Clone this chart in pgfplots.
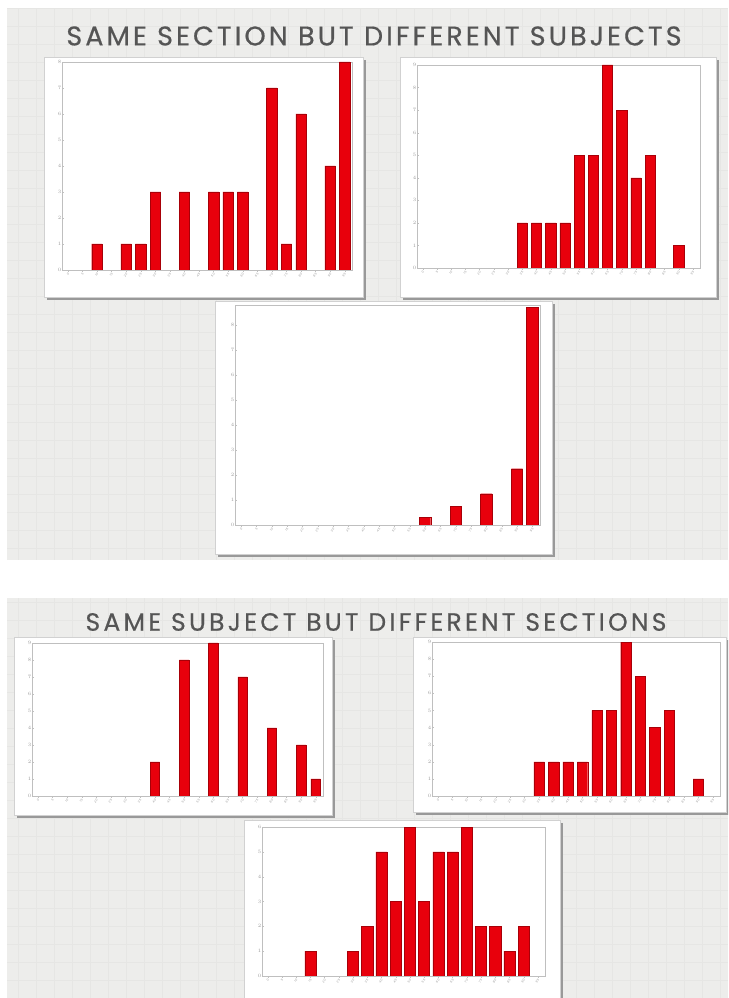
\documentclass[border=0pt]{standalone}
\usepackage{pgfplots}
\pgfplotsset{compat=1.18}
\usepackage{fontspec}
\setmainfont{Poppins}
\newfontfamily\titlefontA[FakeBold=0.5, LetterSpace=11.5]{Poppins}
\newfontfamily\titlefontB[FakeBold=0.5, LetterSpace=13]{Poppins}

\definecolor{slidebg}{HTML}{EDEDEB}
\definecolor{slidegrid}{HTML}{E6E6E4}
\definecolor{barred}{HTML}{E8000C}
\definecolor{baredge}{HTML}{A80008}
\definecolor{titlegray}{HTML}{555555}

% card: x1 y1 x2 y2 in pixels, origin top left
\newcommand\card[4]{%
  \fill[black!40] (#1+3,998-#4-3) rectangle (#3+3,998-#2-3);
  \filldraw[fill=white,draw=black!18] (#1,998-#4) rectangle (#3,998-#2);}

\pgfplotsset{
  hist/.style={
    scale only axis, anchor=south west,
    ybar, bar width=0.72,
    xmin=-0.4, xmax=19.5, ymin=0,
    axis line style={draw=black!25},
    tick pos=left,
    major tick style={draw=black!25, line width=0.3pt},
    major tick length=2pt,
    xtick={0,...,19},
    xticklabels={0,5,10,15,20,25,30,35,40,45,50,55,60,65,70,75,80,85,90,95},
    ytick distance=1,
    tick label style={font=\fontsize{3}{3}\selectfont, text=black!40},
    x tick label style={rotate=45, anchor=north east, inner sep=0.5pt},
    y tick label style={inner sep=0.5pt},
  },
  redbar/.style={fill=barred, draw=baredge, line width=0.4pt},
}

\begin{document}
\begin{tikzpicture}[x=1pt,y=1pt]
\useasboundingbox (0,0) rectangle (728,998);
\clip (0,0) rectangle (728,998);
% page and the two slides
\fill[white] (0,0) rectangle (728,998);
\fill[slidebg] (7,998-560) rectangle (728,998-8);
\draw[slidegrid, line width=0.4pt, step=18pt] (7,998-560) grid (728,998-8);
\fill[slidebg] (7,0) rectangle (728,998-598);
\draw[slidegrid, line width=0.4pt, step=18pt] (7,0) grid (728,998-598);

\node[titlegray, font=\titlefontA\fontsize{27}{27}\selectfont] at (374,998-36) {SAME SECTION BUT DIFFERENT SUBJECTS};
\node[titlegray, font=\titlefontB\fontsize{25}{25}\selectfont] at (376,998-622) {SAME SUBJECT BUT DIFFERENT SECTIONS};

\card{44}{57}{363}{297}
\card{400}{57}{716}{297}
\card{215}{301}{552}{554}
\card{14}{637}{332}{815}
\card{413}{637}{726}{812}
\card{244}{820}{560}{1010}

% top left
\begin{axis}[hist, at={(62pt,728pt)}, width=290pt, height=208pt, ymax=8]
\addplot[redbar] coordinates {(2,1) (4,1) (5,1) (6,3) (8,3)
 (10,3) (11,3) (12,3) (14,7) (15,1) (16,6) (18,4) (19,8)};
\end{axis}

% top right
\begin{axis}[hist, at={(417pt,730pt)}, width=283pt, height=203pt, ymax=9]
\addplot[redbar] coordinates {(7,2) (8,2) (9,2)
 (10,2) (11,5) (12,5) (13,9) (14,7) (15,4) (16,5) (18,1)};
\end{axis}

% top middle
\begin{axis}[hist, at={(235pt,473pt)}, width=305pt, height=220pt, ymax=8.8, bar width=0.74]
\addplot[redbar] coordinates {(12,0.3) (14,0.75) (16,1.25) (18,2.25) (19,8.7)};
\end{axis}

% bottom left
\begin{axis}[hist, at={(32pt,202pt)}, width=291pt, height=153pt, ymax=9, bar width=0.65]
\addplot[redbar] coordinates {(8,2) (10,8) (12,9) (14,7) (16,4) (18,3) (19,1)};
\end{axis}

% bottom right
\begin{axis}[hist, at={(432pt,202pt)}, width=288pt, height=154pt, ymax=9]
\addplot[redbar] coordinates {(7,2) (8,2) (9,2)
 (10,2) (11,5) (12,5) (13,9) (14,7) (15,4) (16,5) (18,1)};
\end{axis}

% bottom middle
\begin{axis}[hist, at={(262pt,22pt)}, width=283pt, height=149pt, ymax=6, bar width=0.78]
\addplot[redbar] coordinates {(3,1) (6,1) (7,2) (8,5) (9,3)
 (10,6) (11,3) (12,5) (13,5) (14,6) (15,2) (16,2) (17,1) (18,2)};
\end{axis}
\end{tikzpicture}
\end{document}
